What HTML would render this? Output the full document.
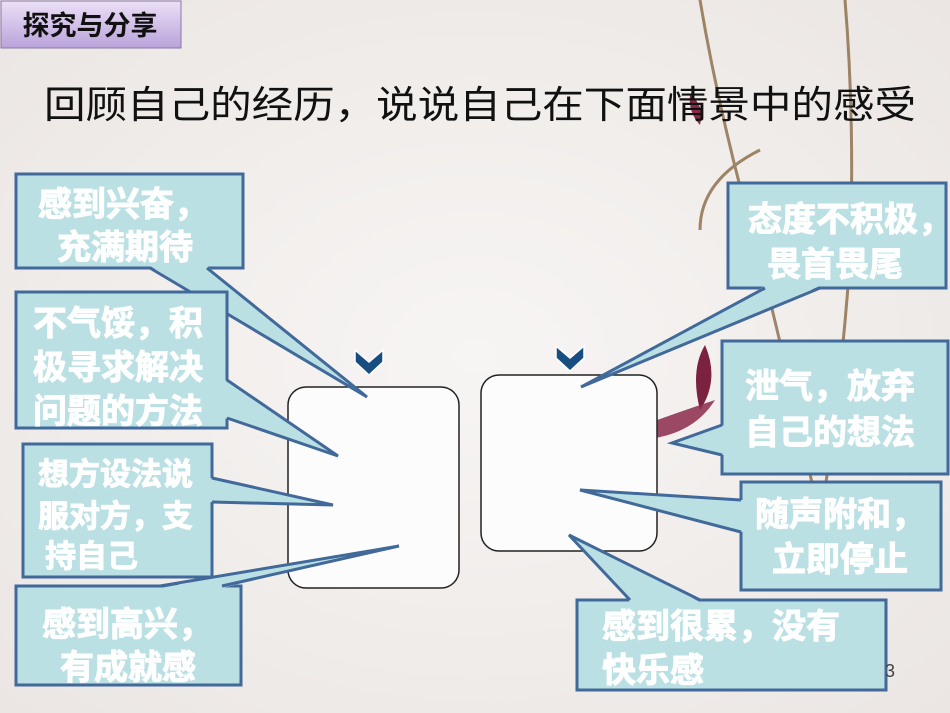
<!DOCTYPE html>
<html><head><meta charset="utf-8"><style>
html,body{margin:0;padding:0;width:950px;height:713px;overflow:hidden;background:#f1eeeb}
svg{display:block}
text{font-family:"Liberation Sans","Noto Sans CJK SC",sans-serif}
.c{font-size:34px;font-weight:bold;fill:#fff;paint-order:stroke;stroke:#fff;stroke-width:1px}
.s{font-size:31px}
</style></head><body>
<svg width="950" height="713" viewBox="0 0 950 713" xmlns="http://www.w3.org/2000/svg">
<defs>
<linearGradient id="pg" x1="0" y1="0" x2="0" y2="1"><stop offset="0" stop-color="#ece0f7"/><stop offset="1" stop-color="#b9a3da"/></linearGradient>
<radialGradient id="bg" cx="0.5" cy="0.5" r="0.7"><stop offset="0" stop-color="#f7f5f4"/><stop offset="1" stop-color="#ebe6e3"/></radialGradient>
</defs>
<rect width="950" height="713" fill="url(#bg)"/>
<g stroke="#8a6a45" stroke-width="3" fill="none" opacity="0.8">
<path d="M700 0 Q720 120 760 260 Q790 380 820 520"/>
<path d="M845 0 Q855 120 850 260 Q840 400 820 520"/>
<path d="M760 150 Q700 180 700 230"/>
</g>
<path d="M705 345 Q690 370 700 410 Q720 380 705 345Z" fill="#7a2240"/>
<path d="M630 430 Q670 415 715 400 Q690 440 630 440Z" fill="#8a2a4a" opacity="0.85"/>
<path d="M690 95 Q705 105 700 125 Q688 112 690 95Z" fill="#8a2a4a"/>
<rect x="1" y="1" width="180" height="47" fill="url(#pg)" stroke="#8a78a8"/>
<text x="90" y="35" font-size="27" font-weight="bold" text-anchor="middle" fill="#111">探究与分享</text>
<text x="44" y="118" font-size="38" fill="#111" textLength="872" lengthAdjust="spacingAndGlyphs">回顾自己的经历，说说自己在下面情景中的感受</text>
<rect x="288" y="387" width="171" height="201" rx="18" fill="#fdfcfc" stroke="#222" stroke-width="1.5"/>
<rect x="481" y="375" width="176" height="176" rx="18" fill="#fdfcfc" stroke="#222" stroke-width="1.5"/>
<path d="M355 350 L369 362 L383 350 L383 362 L369 375 L355 362Z" fill="#174d80" stroke="#fff" stroke-width="1.5"/>
<path d="M556 346 L570 358 L584 346 L584 358 L570 371 L556 358Z" fill="#174d80" stroke="#fff" stroke-width="1.5"/>
<g fill="#bbe0e4" stroke="#41699a" stroke-width="3" stroke-linejoin="miter">
<rect x="16" y="174" width="227" height="94"/>
<polygon points="150,266 207,266 367,397" stroke="none"/><polyline points="150,268 367,397 207,268" fill="none"/>
<rect x="16" y="292" width="211" height="136"/>
<polygon points="225,380 225,418 338,456" stroke="none"/><polyline points="227,380 338,456 227,418" fill="none"/>
<rect x="23" y="444" width="189" height="133"/>
<polygon points="210,478 210,502 333,505" stroke="none"/><polyline points="212,478 333,505 212,502" fill="none"/>
<rect x="16" y="586" width="225" height="99"/>
<polygon points="160,588 222,588 399,546" stroke="none"/><polyline points="160,586 399,546 222,586" fill="none"/>
<rect x="728" y="183" width="218" height="105"/>
<polygon points="765,286 820,286 581,387" stroke="none"/><polyline points="765,288 581,387 820,288" fill="none"/>
<rect x="722" y="341" width="226" height="133"/>
<polygon points="724,425 724,455 672,443" stroke="none"/><polyline points="722,425 672,443 722,455" fill="none"/>
<rect x="741" y="482" width="200" height="108"/>
<polygon points="743,500 743,532 580,490" stroke="none"/><polyline points="741,500 580,490 741,532" fill="none"/>
<rect x="577" y="600" width="309" height="90"/>
<polygon points="630,602 700,602 569,535" stroke="none"/><polyline points="630,600 569,535 700,600" fill="none"/>
</g>
<text class="c" x="38" y="216">感到兴奋，</text>
<text class="c" x="57" y="259">充满期待</text>
<text class="c" x="33" y="335">不气馁，积</text>
<text class="c" x="33" y="379">极寻求解决</text>
<text class="c" x="33" y="423">问题的方法</text>
<text class="c s" x="38" y="485">想方设法说</text>
<text class="c s" x="38" y="527">服对方，支</text>
<text class="c s" x="45" y="567">持自己</text>
<text class="c" x="42" y="636">感到高兴，</text>
<text class="c" x="60" y="679">有成就感</text>
<text class="c" x="748" y="231">态度不积极，</text>
<text class="c" x="767" y="276">畏首畏尾</text>
<text class="c" x="745" y="398">泄气，放弃</text>
<text class="c" x="745" y="444">自己的想法</text>
<text class="c" x="755" y="526">随声附和，</text>
<text class="c" x="772" y="571">立即停止</text>
<text class="c" x="602" y="638">感到很累，没有</text>
<text class="c" x="602" y="682">快乐感</text>
<text x="885" y="677" font-size="18" fill="#444">3</text>
</svg>
</body></html>
